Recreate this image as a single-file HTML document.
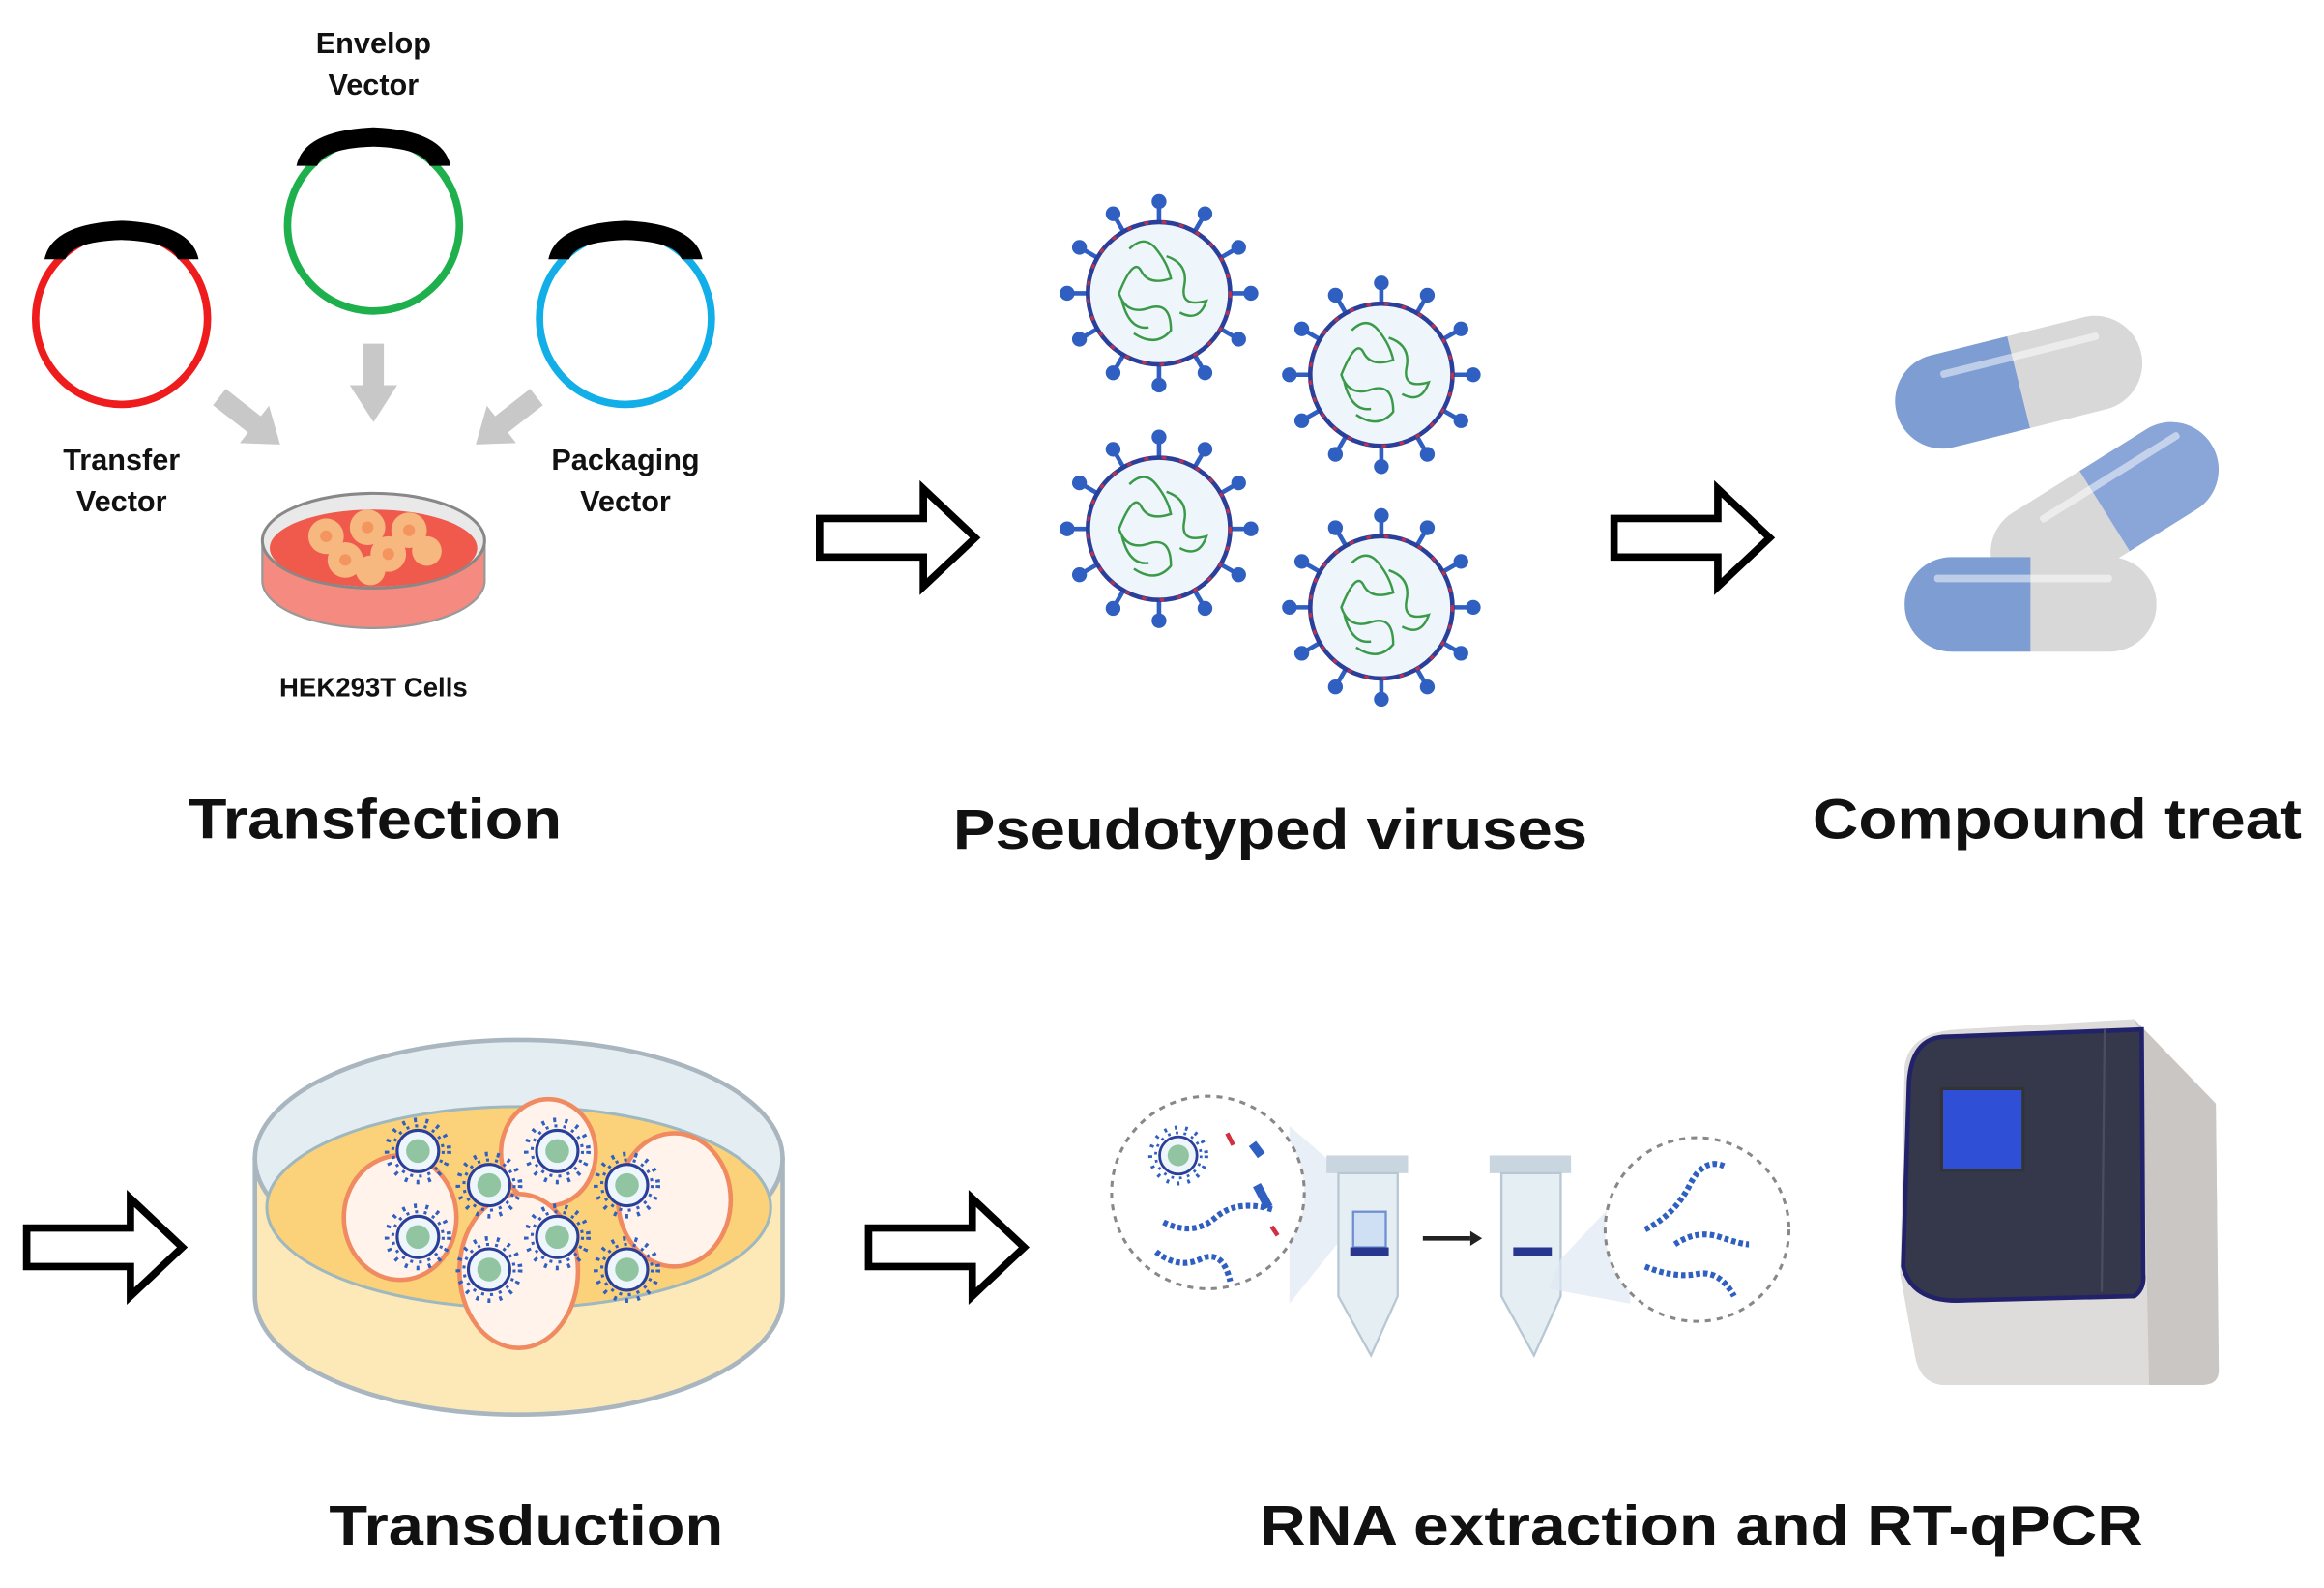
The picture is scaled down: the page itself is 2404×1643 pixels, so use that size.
<!DOCTYPE html>
<html><head><meta charset="utf-8"><style>
html,body{margin:0;padding:0;background:#fff;}
svg{display:block;}
text{font-family:"Liberation Sans",Arial,sans-serif;font-weight:bold;fill:#111;}
</style></head><body>
<svg width="2404" height="1643" viewBox="0 0 1568 1072" preserveAspectRatio="none" xmlns="http://www.w3.org/2000/svg">
<defs>
<g id="virus">
  <g stroke="#2f5fc0" stroke-width="3">
    <line x1="0" y1="-48" x2="0" y2="-62"/><line x1="0" y1="48" x2="0" y2="62"/>
    <line x1="-48" y1="0" x2="-62" y2="0"/><line x1="48" y1="0" x2="62" y2="0"/>
    <line x1="24" y1="-41.6" x2="31" y2="-53.7"/><line x1="-24" y1="-41.6" x2="-31" y2="-53.7"/>
    <line x1="24" y1="41.6" x2="31" y2="53.7"/><line x1="-24" y1="41.6" x2="-31" y2="53.7"/>
    <line x1="41.6" y1="-24" x2="53.7" y2="-31"/><line x1="-41.6" y1="-24" x2="-53.7" y2="-31"/>
    <line x1="41.6" y1="24" x2="53.7" y2="31"/><line x1="-41.6" y1="24" x2="-53.7" y2="31"/>
  </g>
  <g fill="#2f5fc0">
    <circle cx="0" cy="-62" r="5"/><circle cx="0" cy="62" r="5"/><circle cx="-62" cy="0" r="5"/><circle cx="62" cy="0" r="5"/>
    <circle cx="31" cy="-53.7" r="5"/><circle cx="-31" cy="-53.7" r="5"/><circle cx="31" cy="53.7" r="5"/><circle cx="-31" cy="53.7" r="5"/>
    <circle cx="53.7" cy="-31" r="5"/><circle cx="-53.7" cy="-31" r="5"/><circle cx="53.7" cy="31" r="5"/><circle cx="-53.7" cy="31" r="5"/>
  </g>
  <circle r="48" fill="#eef5fb" stroke="#2a3f9a" stroke-width="3"/>
  <circle r="48" fill="none" stroke="#c0304a" stroke-width="2" stroke-dasharray="3 9"/>
  <path d="M-20,-30 q10,-10 18,0 t10,20 q-15,5 -20,-5 t-15,15 q5,15 20,10 t15,15 q-10,12 -25,2 M5,-25 q15,5 12,20 t15,10 q-5,15 -18,8 M-25,5 q5,20 18,18" fill="none" stroke="#3a9a48" stroke-width="1.6"/>
</g>
<g id="arrow">
  <polygon points="0,-13 70,-13 70,-33 105,0 70,33 70,13 0,13" fill="#fff" stroke="#000" stroke-width="5" stroke-linejoin="miter"/>
</g>
<g id="minivirus">
  <circle r="17" fill="none" stroke="#2f5fc0" stroke-width="2" stroke-dasharray="2 4"/>
  <circle r="21" fill="none" stroke="#2f5fc0" stroke-width="3" stroke-dasharray="2 6"/>
  <circle r="14" fill="#eef5fb" stroke="#2a3f9a" stroke-width="2"/>
  <circle r="8" fill="#6ab07a" opacity="0.7"/>
</g>
<clipPath id="cap"><rect x="-85" y="-32" width="170" height="64" rx="32"/></clipPath>
</defs>

<!-- Transfection -->
<text x="252" y="36" font-size="20" text-anchor="middle">Envelop</text>
<text x="252" y="64" font-size="20" text-anchor="middle">Vector</text>
<circle cx="252" cy="152" r="58" fill="none" stroke="#1fb04e" stroke-width="5"/>
<path d="M200,112 Q205,88 252,86 Q299,88 304,112 L290,112 Q285,100 252,99 Q219,100 214,112 Z" fill="#000"/>
<circle cx="82" cy="215" r="58" fill="none" stroke="#ee1c1c" stroke-width="5"/>
<path d="M30,175 Q35,151 82,149 Q129,151 134,175 L120,175 Q115,163 82,162 Q49,163 44,175 Z" fill="#000"/>
<circle cx="422" cy="215" r="58" fill="none" stroke="#12aee8" stroke-width="5"/>
<path d="M370,175 Q375,151 422,149 Q469,151 474,175 L460,175 Q455,163 422,162 Q389,163 384,175 Z" fill="#000"/>
<text x="82" y="317" font-size="20" text-anchor="middle">Transfer</text>
<text x="82" y="345" font-size="20" text-anchor="middle">Vector</text>
<text x="422" y="317" font-size="20" text-anchor="middle">Packaging</text>
<text x="422" y="345" font-size="20" text-anchor="middle">Vector</text>
<polygon points="245,232 259,232 259,260 268,260 252,285 236,260 245,260" fill="#c8c8c8"/>
<g transform="translate(148,268) rotate(38)"><polygon points="0,-7 30,-7 30,-16 52,0 30,16 30,7 0,7" fill="#c8c8c8"/></g>
<g transform="translate(362,268) rotate(142)"><polygon points="0,-7 30,-7 30,-16 52,0 30,16 30,7 0,7" fill="#c8c8c8"/></g>
<path d="M177,365 L177,392 A75,32 0 0 0 327,392 L327,365 Z" fill="#f58a80" stroke="#999" stroke-width="1.5"/>
<ellipse cx="252" cy="365" rx="75" ry="32" fill="#e9e9e9" stroke="#888" stroke-width="2"/>
<ellipse cx="252" cy="370" rx="70" ry="26" fill="#ef5a4c"/>
<g fill="#f7b880">
  <circle cx="220" cy="362" r="12"/><circle cx="248" cy="356" r="12"/><circle cx="276" cy="358" r="12"/>
  <circle cx="233" cy="378" r="12"/><circle cx="262" cy="374" r="12"/><circle cx="288" cy="372" r="10"/><circle cx="250" cy="385" r="10"/>
</g>
<g fill="#f49560"><circle cx="248" cy="356" r="4"/><circle cx="262" cy="374" r="4"/><circle cx="233" cy="378" r="4"/><circle cx="276" cy="358" r="4"/><circle cx="220" cy="362" r="4"/></g>
<text x="252" y="470" font-size="18" text-anchor="middle">HEK293T Cells</text>
<text x="253" y="566" font-size="38" text-anchor="middle" textLength="252" lengthAdjust="spacingAndGlyphs">Transfection</text>

<use href="#arrow" transform="translate(553,363)"/>

<use href="#virus" transform="translate(782,198)"/>
<use href="#virus" transform="translate(932,253)"/>
<use href="#virus" transform="translate(782,357)"/>
<use href="#virus" transform="translate(932,410)"/>
<text x="857" y="573" font-size="38" text-anchor="middle" textLength="428" lengthAdjust="spacingAndGlyphs">Pseudotyped viruses</text>

<use href="#arrow" transform="translate(1089,363)"/>

<g transform="translate(1362,258) rotate(-14)"><g clip-path="url(#cap)"><rect x="-85" y="-32" width="85" height="64" fill="#7d9dd3"/><rect x="0" y="-32" width="85" height="64" fill="#d8d8d8"/></g><rect x="-50" y="-20" width="110" height="5" rx="2" fill="#fff" opacity="0.5"/></g>
<g transform="translate(1420,345) rotate(-32)"><g clip-path="url(#cap)"><rect x="-85" y="-32" width="85" height="64" fill="#d8d8d8"/><rect x="0" y="-32" width="85" height="64" fill="#8aa5d8"/></g><rect x="-40" y="-20" width="110" height="5" rx="2" fill="#fff" opacity="0.5"/></g>
<g transform="translate(1370,408)"><g clip-path="url(#cap)"><rect x="-85" y="-32" width="85" height="64" fill="#7d9dd3"/><rect x="0" y="-32" width="85" height="64" fill="#d8d8d8"/></g><rect x="-65" y="-20" width="120" height="5" rx="2" fill="#fff" opacity="0.5"/></g>
<text x="1388" y="566" font-size="38" text-anchor="middle" textLength="330" lengthAdjust="spacingAndGlyphs">Compound treat</text>

<use href="#arrow" transform="translate(18,842)"/>
<path d="M172,782 L172,875 A178,80 0 0 0 528,875 L528,782 Z" fill="#fde9b8" stroke="#a9b6bf" stroke-width="3"/>
<ellipse cx="350" cy="782" rx="178" ry="80" fill="#e4eef2" stroke="#a9b6bf" stroke-width="3"/>
<ellipse cx="350" cy="815" rx="170" ry="68" fill="#fbd27a" stroke="#9fb8bf" stroke-width="2"/>
<g fill="#fff3ec" stroke="#f08a60" stroke-width="3">
  <ellipse cx="270" cy="822" rx="38" ry="42"/><ellipse cx="370" cy="778" rx="32" ry="36"/>
  <ellipse cx="350" cy="858" rx="40" ry="52"/><ellipse cx="455" cy="810" rx="38" ry="45"/>
</g>
<use href="#minivirus" transform="translate(282,777)"/><use href="#minivirus" transform="translate(330,800)"/>
<use href="#minivirus" transform="translate(376,777)"/><use href="#minivirus" transform="translate(423,800)"/>
<use href="#minivirus" transform="translate(282,835)"/><use href="#minivirus" transform="translate(376,835)"/>
<use href="#minivirus" transform="translate(330,857)"/><use href="#minivirus" transform="translate(423,857)"/>
<text x="355" y="1043" font-size="38" text-anchor="middle" textLength="266" lengthAdjust="spacingAndGlyphs">Transduction</text>

<use href="#arrow" transform="translate(586,842)"/>

<polygon points="870,760 910,795 910,830 870,880" fill="#dfe8f2" opacity="0.7"/>
<circle cx="815" cy="805" r="65" fill="#fff" stroke="#888" stroke-width="2" stroke-dasharray="4 4"/>
<use href="#minivirus" transform="translate(795,780) scale(0.9)"/>
<path d="M785,825 q20,10 35,-3 t40,-5 M780,845 q15,12 30,5 t20,15" fill="none" stroke="#2f5fc0" stroke-width="4" stroke-dasharray="3 2"/>
<path d="M845,772 l6,8 M848,800 l8,15" stroke="#2f5fc0" stroke-width="6"/>
<path d="M828,765 l4,8 M858,828 l4,6" stroke="#d03040" stroke-width="3"/>
<rect x="895" y="780" width="55" height="12" fill="#c9d6df"/>
<path d="M903,792 L943,792 L943,875 L925,915 L903,875 Z" fill="#e5eef3" stroke="#b7c7d3" stroke-width="1.5"/>
<rect x="913" y="818" width="22" height="24" fill="#cfe0f5" stroke="#6f8fd0" stroke-width="1.5"/>
<rect x="911" y="842" width="26" height="6" fill="#27368f"/>
<line x1="960" y1="836" x2="992" y2="836" stroke="#222" stroke-width="3"/>
<polygon points="992,831 1000,836 992,841" fill="#222"/>
<rect x="1005" y="780" width="55" height="12" fill="#c9d6df"/>
<path d="M1013,792 L1053,792 L1053,875 L1035,915 L1013,875 Z" fill="#e5eef3" stroke="#b7c7d3" stroke-width="1.5"/>
<rect x="1021" y="842" width="26" height="6" fill="#27368f"/>
<polygon points="1053,850 1100,800 1100,880 1045,870" fill="#dfe8f2" opacity="0.7"/>
<circle cx="1145" cy="830" r="62" fill="#fff" stroke="#888" stroke-width="2" stroke-dasharray="4 4"/>
<path d="M1110,830 q20,-10 30,-30 t25,-12 M1130,840 q15,-10 30,-5 t20,5 M1110,855 q20,8 35,5 t25,15" fill="none" stroke="#2f5fc0" stroke-width="4" stroke-dasharray="3 2"/>
<!-- machine -->
<path d="M1320,695 L1440,688 L1495,745 L1497,925 Q1497,935 1485,935 L1310,935 Q1295,933 1292,915 L1282,860 L1285,720 Q1288,697 1320,695 Z" fill="#dedcda"/>
<path d="M1440,688 L1495,745 L1497,925 Q1497,935 1485,935 L1450,935 L1445,700 Z" fill="#c9c6c4"/>
<path d="M1310,700 Q1290,702 1288,730 L1284,855 Q1290,878 1320,878 L1440,875 Q1447,870 1446,860 L1445,695 Z" fill="#35374a" stroke="#22226a" stroke-width="3"/>
<line x1="1420" y1="695" x2="1418" y2="872" stroke="#4a4c60" stroke-width="1.5"/>
<rect x="1310" y="735" width="55" height="55" fill="#2f4fd6" stroke="#333" stroke-width="2"/>
<text x="1148" y="1043" font-size="38" text-anchor="middle" textLength="596" lengthAdjust="spacingAndGlyphs">RNA extraction and RT-qPCR</text>
</svg>
</body></html>
